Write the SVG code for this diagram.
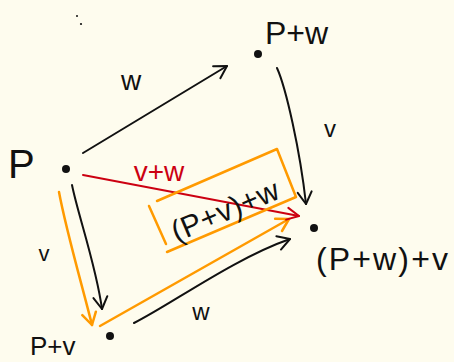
<svg xmlns="http://www.w3.org/2000/svg" width="454" height="362" viewBox="0 0 454 362">
<style>
.t{font-family:"Liberation Sans","DejaVu Sans",sans-serif;fill:#111}
.k{fill:none;stroke:#111;stroke-width:2;stroke-linecap:round;stroke-linejoin:round}
.o{fill:none;stroke:#FF9A00;stroke-width:2.5;stroke-linecap:round;stroke-linejoin:round}
.r{fill:none;stroke:#CC0011;stroke-width:2;stroke-linecap:round;stroke-linejoin:round}
.dot{fill:#111}
</style>
<defs>
<marker id="ak" markerUnits="userSpaceOnUse" markerWidth="20" markerHeight="20" refX="0" refY="0" viewBox="-14 -10 16 20" orient="auto"><path d="M-12,-7 L0,0 L-12,7" fill="none" stroke="#111" stroke-width="2" stroke-linecap="round" stroke-linejoin="round"/></marker>
<marker id="ao" markerUnits="userSpaceOnUse" markerWidth="20" markerHeight="20" refX="0" refY="0" viewBox="-14 -10 16 20" orient="auto"><path d="M-12,-7 L0,0 L-12,7" fill="none" stroke="#FF9A00" stroke-width="2.5" stroke-linecap="round" stroke-linejoin="round"/></marker>
<marker id="ar" markerUnits="userSpaceOnUse" markerWidth="20" markerHeight="20" refX="0" refY="0" viewBox="-14 -10 16 20" orient="auto"><path d="M-12,-6 L0,0 L-12,6" fill="none" stroke="#CC0011" stroke-width="2" stroke-linecap="round" stroke-linejoin="round"/></marker>
</defs>
<rect width="454" height="362" fill="#FEFCEE"/>
<circle cx="77" cy="16" r="1" class="dot"/>
<circle cx="81" cy="24" r="1.1" class="dot"/>

<g id="connectors">
<path class="k" d="M83,153 L227,66" marker-end="url(#ak)"/>
<text class="t" x="131" y="90" font-size="28" text-anchor="middle">w</text>
<path class="k" d="M277,68 C286,88 300,150 306,204" marker-end="url(#ak)"/>
<text class="t" x="330" y="137" font-size="24" text-anchor="middle">v</text>
<path class="k" d="M72,185 C78,215 96,265 102,309" marker-end="url(#ak)"/>
<path class="o" d="M59,192 C66,230 82,285 92,325" marker-end="url(#ao)"/>
<text class="t" x="44" y="261" font-size="22" text-anchor="middle">v</text>
<path class="o" d="M100,326 L289,219" marker-end="url(#ao)"/>
<path class="k" d="M134,323 C170,305 235,258 290,239" marker-end="url(#ak)"/>
<text class="t" x="201" y="320" font-size="24" text-anchor="middle">w</text>
<path class="r" d="M83,175 L299,216" marker-end="url(#ar)"/>
<text x="159" y="181" font-size="28" text-anchor="middle" style="font-family:'Liberation Sans','DejaVu Sans',sans-serif;fill:#CC0011">v+w</text>
</g>

<g id="box">
<path class="o" d="M157,201 L277,149 L296,197 L167,252" stroke-width="2"/>
<path class="o" d="M149,206 L166,244" stroke-width="2"/>
<text class="t" x="229" y="220" font-size="30" text-anchor="middle" textLength="114" transform="rotate(-23 229 220)">(P+v)+w</text>
</g>

<g id="P">
<circle cx="66" cy="169" r="4" class="dot"/>
<text class="t" x="8" y="178" font-size="40">P</text>
</g>
<g id="Pw">
<circle cx="258" cy="54" r="4" class="dot"/>
<text class="t" x="265" y="44" font-size="32">P+w</text>
</g>
<g id="Pwv">
<circle cx="314" cy="228" r="4" class="dot"/>
<text class="t" x="316" y="270" font-size="32" textLength="132">(P+w)+v</text>
</g>
<g id="Pv">
<circle cx="110" cy="336" r="4" class="dot"/>
<text class="t" x="30" y="355" font-size="26">P+v</text>
</g>
</svg>
